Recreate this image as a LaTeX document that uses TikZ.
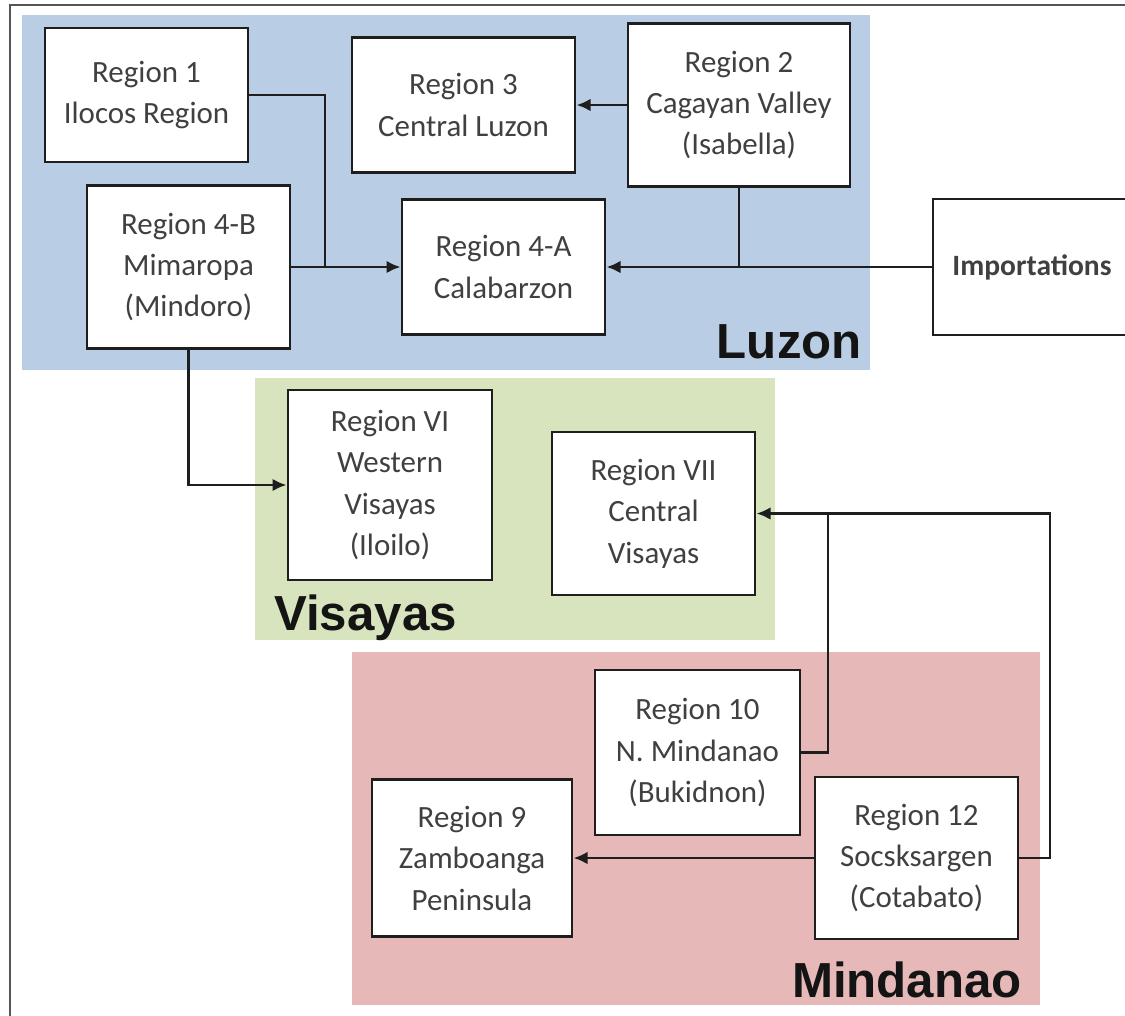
\documentclass[tikz,border=0pt]{standalone}
\usepackage{fontspec}
\setmainfont{Carlito}
\newfontfamily\islandfont{Liberation Sans}
\usetikzlibrary{arrows.meta}
\definecolor{luzonblue}{HTML}{B9CDE5}
\definecolor{visayasgreen}{HTML}{D7E4BD}
\definecolor{mindanaored}{HTML}{E6B9B8}
\definecolor{boxtext}{HTML}{404040}
\definecolor{linedark}{HTML}{1E1E1E}
\definecolor{framegray}{HTML}{555555}

\begin{document}
\begin{tikzpicture}[x=0.025cm, y=-0.025cm, >=Stealth,
    region/.style={draw=linedark, line width=2pt, fill=white, align=center,
        text=boxtext, font=\fontsize{22}{29.5}\selectfont, inner sep=0pt},
    link/.style={draw=linedark, line width=2pt},
    flow/.style={link, -{Latex[length=10pt, width=9pt]}},
    island/.style={font=\islandfont\bfseries\fontsize{35}{40}\selectfont,
        text=black!92, inner sep=0pt}]

\useasboundingbox (0,0) rectangle (1125,1015);
\clip (0,0) rectangle (1125,1015);

% === Marco ===
\draw[framegray, line width=1.5pt] (10,5) rectangle (1160,1040);

% === Fondos de las islas ===
\fill[luzonblue] (22,15) rectangle (870,370);
\fill[visayasgreen] (255,378) rectangle (775,640);
\fill[mindanaored] (352,652) rectangle (1040,1005);

% === Luzon ===
\node[region, minimum width=5.075cm, minimum height=3.35cm] (r1) at (146.5,95) {Region 1\\Ilocos Region};
\node[region, minimum width=5.575cm, minimum height=3.375cm] (r3) at (463.5,105) {Region 3\\Central Luzon};
\node[region, minimum width=5.55cm, minimum height=4.075cm] (r2) at (739,105) {Region 2\\Cagayan Valley\\(Isabella)};
\node[region, minimum width=5.075cm, minimum height=4.075cm] (r4b) at (188.5,267) {Region 4-B\\Mimaropa\\(Mindoro)};
\node[region, minimum width=5.075cm, minimum height=3.375cm] (r4a) at (503.5,267) {Region 4-A\\Calabarzon};
\node[region, minimum width=4.95cm, minimum height=3.4cm, font=\fontsize{21}{28}\selectfont\bfseries] (imp) at (1032,267) {Importations};
\node[island, anchor=base east] (luzon) at (862,358) {Luzon};

% === Visayas ===
\node[region, minimum width=5.1cm, minimum height=4.75cm] (r6) at (390,485) {Region VI\\Western\\Visayas\\(Iloilo)};
\node[region, minimum width=5.075cm, minimum height=4.075cm] (r7) at (653.5,513.5) {Region VII\\Central\\Visayas};
\node[island, anchor=base west] (visayas) at (274,630) {Visayas};

% === Mindanao ===
\node[region, minimum width=5.125cm, minimum height=4.125cm] (r10) at (697.5,752.5) {Region 10\\N. Mindanao\\(Bukidnon)};
\node[region, minimum width=5.0cm, minimum height=3.925cm] (r9) at (472,858) {Region 9\\Zamboanga\\Peninsula};
\node[region, minimum width=5.075cm, minimum height=4.05cm] (r12) at (916.5,858) {Region 12\\Socsksargen\\(Cotabato)};
\node[island, anchor=base east] (mindanao) at (1022,997) {Mindanao};

% === Flujos ===
\coordinate (j14) at (325,267);
\coordinate (j7) at (828,513.5);
\coordinate (c12) at (1050,858);

\draw[link] (r1.east) -| (j14);
\draw[flow] (r4b.east) -- (r4a.west);
\draw[flow] (r2.west) -- (r3.east);
\draw[link] (r2.south) -- (r2.south |- imp.west);
\draw[flow] (imp.west) -- (r4a.east);
\draw[flow] (r4b.south) |- (r6.west);
\draw[link] (r10.east) -| (j7);
\draw[flow] (r12.east) -- (c12) |- (r7.east);
\draw[flow] (r12.west) -- (r9.east);

\end{tikzpicture}
\end{document}
